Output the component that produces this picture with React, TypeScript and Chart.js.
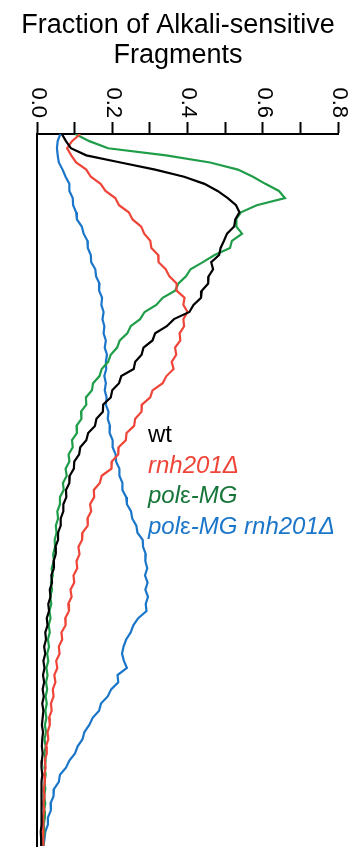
import { useEffect, useRef } from 'react';
import { Chart, registerables } from 'chart.js';

Chart.register(...registerables);

// Position along the gel lane (top = 0, bottom = 100)
const lanePositions: number[] = Array.from({ length: 101 }, (_, i) => i);

const xTickValues = [0, 0.2, 0.4, 0.6, 0.8];

const titleLines = ['Fraction of Alkali-sensitive', 'Fragments'];

const wtValues = [
  0.066, 0.077, 0.090, 0.131, 0.222, 0.314, 0.391, 0.445, 0.480, 0.507,
  0.529, 0.538, 0.527, 0.524, 0.505, 0.497, 0.488, 0.484, 0.463, 0.468,
  0.456, 0.455, 0.438, 0.436, 0.416, 0.405, 0.364, 0.345, 0.314, 0.307,
  0.283, 0.278, 0.261, 0.257, 0.224, 0.218, 0.200, 0.196, 0.176, 0.175,
  0.158, 0.154, 0.136, 0.131, 0.115, 0.112, 0.099, 0.098, 0.087, 0.086,
  0.077, 0.078, 0.070, 0.070, 0.063, 0.063, 0.056, 0.056, 0.049, 0.050,
  0.044, 0.045, 0.038, 0.040, 0.034, 0.036, 0.030, 0.032, 0.026, 0.028,
  0.022, 0.024, 0.019, 0.022, 0.017, 0.020, 0.016, 0.019, 0.015, 0.018,
  0.014, 0.017, 0.015, 0.013, 0.016, 0.014, 0.013, 0.015, 0.013, 0.012,
  0.014, 0.012, 0.013, 0.011, 0.012, 0.013, 0.011, 0.012, 0.010, 0.011, 0.011,
];

const rnh201Values = [
  0.115, 0.093, 0.080, 0.091, 0.104, 0.131, 0.143, 0.169, 0.182, 0.208,
  0.218, 0.244, 0.254, 0.277, 0.285, 0.301, 0.304, 0.322, 0.323, 0.342,
  0.352, 0.371, 0.371, 0.392, 0.389, 0.400, 0.389, 0.391, 0.379, 0.381,
  0.367, 0.370, 0.358, 0.363, 0.344, 0.334, 0.307, 0.301, 0.279, 0.278,
  0.261, 0.258, 0.238, 0.236, 0.217, 0.216, 0.199, 0.198, 0.172, 0.167,
  0.151, 0.152, 0.141, 0.144, 0.134, 0.135, 0.121, 0.120, 0.110, 0.113,
  0.105, 0.107, 0.097, 0.099, 0.089, 0.092, 0.083, 0.085, 0.075, 0.076,
  0.065, 0.067, 0.058, 0.060, 0.051, 0.054, 0.046, 0.049, 0.042, 0.044,
  0.037, 0.039, 0.032, 0.034, 0.028, 0.030, 0.024, 0.026, 0.021, 0.023,
  0.019, 0.021, 0.018, 0.020, 0.017, 0.019, 0.016, 0.018, 0.016, 0.017, 0.016,
];

const polMGValues = [
  0.102, 0.139, 0.189, 0.343, 0.460, 0.534, 0.574, 0.607, 0.643, 0.659,
  0.584, 0.542, 0.529, 0.530, 0.545, 0.518, 0.513, 0.472, 0.441, 0.408,
  0.396, 0.376, 0.367, 0.334, 0.317, 0.286, 0.274, 0.249, 0.240, 0.220,
  0.213, 0.196, 0.189, 0.172, 0.166, 0.149, 0.146, 0.130, 0.131, 0.117,
  0.118, 0.105, 0.106, 0.093, 0.095, 0.084, 0.086, 0.076, 0.079, 0.069,
  0.071, 0.061, 0.061, 0.054, 0.056, 0.050, 0.052, 0.047, 0.048, 0.043,
  0.045, 0.039, 0.042, 0.037, 0.040, 0.035, 0.038, 0.033, 0.036, 0.031,
  0.034, 0.029, 0.032, 0.027, 0.030, 0.025, 0.028, 0.024, 0.027, 0.023,
  0.026, 0.022, 0.025, 0.021, 0.024, 0.020, 0.023, 0.020, 0.023, 0.020,
  0.023, 0.020, 0.022, 0.019, 0.022, 0.019, 0.021, 0.018, 0.020, 0.017, 0.017,
];

const polMGrnh201Values = [
  0.062, 0.055, 0.053, 0.055, 0.058, 0.068, 0.076, 0.086, 0.086, 0.095,
  0.096, 0.104, 0.106, 0.119, 0.124, 0.134, 0.135, 0.143, 0.144, 0.155,
  0.157, 0.166, 0.165, 0.173, 0.171, 0.177, 0.174, 0.179, 0.177, 0.183,
  0.180, 0.186, 0.183, 0.184, 0.179, 0.183, 0.180, 0.185, 0.183, 0.190,
  0.188, 0.194, 0.193, 0.201, 0.201, 0.209, 0.210, 0.219, 0.219, 0.227,
  0.227, 0.237, 0.239, 0.250, 0.253, 0.264, 0.267, 0.281, 0.282, 0.289,
  0.288, 0.293, 0.287, 0.294, 0.288, 0.295, 0.289, 0.291, 0.269, 0.256,
  0.249, 0.237, 0.230, 0.226, 0.231, 0.239, 0.214, 0.216, 0.197, 0.188,
  0.170, 0.165, 0.148, 0.139, 0.126, 0.121, 0.108, 0.101, 0.086, 0.077,
  0.061, 0.058, 0.045, 0.044, 0.036, 0.037, 0.029, 0.029, 0.022, 0.020, 0.017,
];

const seriesNames = ['wt', 'rnh201Δ', 'polε-MG', 'polε-MG rnh201Δ'];
const seriesValues = [wtValues, rnh201Values, polMGValues, polMGrnh201Values];
const lineColors = ['#000000', '#ef4538', '#1f9d48', '#1b76c9'];
const legendColors = ['#000000', '#ef4538', '#17753a', '#1b76c9'];

// legend text pieces: [text, italic]
const legendPieces: [string, boolean][][] = [
  [['wt', false]],
  [['rnh201Δ', true]],
  [['pol', true], ['ε', false], ['-MG', true]],
  [['pol', true], ['ε', false], ['-MG rnh201Δ', true]],
];

const FONT = '"Liberation Sans", Arial, Helvetica, sans-serif';

const overlayPlugin = {
  id: 'overlay',
  afterDraw(chart: any) {
    const ctx: CanvasRenderingContext2D = chart.ctx;
    const xs = chart.scales.x;
    const area = chart.chartArea;
    ctx.save();
    // title
    ctx.fillStyle = '#000';
    ctx.font = `27px ${FONT}`;
    ctx.textAlign = 'center';
    ctx.textBaseline = 'alphabetic';
    titleLines.forEach((t, i) => {
      ctx.fillText(t, chart.width / 2, 33 + i * 30);
    });
    // rotated tick labels (clockwise)
    ctx.font = `22px ${FONT}`;
    ctx.textAlign = 'right';
    ctx.textBaseline = 'middle';
    xTickValues.forEach((v) => {
      const px = xs.getPixelForValue(v);
      ctx.save();
      ctx.translate(px + 1, xs.bottom - 16);
      ctx.rotate(Math.PI / 2);
      ctx.fillText(v.toFixed(1), 0, 0);
      ctx.restore();
    });
    // legend
    ctx.textAlign = 'left';
    ctx.textBaseline = 'alphabetic';
    const lx = area.left + 111;
    let ly = area.top + 308;
    legendPieces.forEach((pieces, i) => {
      let x = lx;
      ctx.fillStyle = legendColors[i];
      pieces.forEach(([t, it]) => {
        ctx.font = `${it ? 'italic ' : ''}24px ${FONT}`;
        ctx.fillText(t, x, ly);
        x += ctx.measureText(t).width;
      });
      ly += 30.7;
    });
    ctx.restore();
  },
};

export default function App() {
  const ref = useRef<HTMLCanvasElement>(null);
  useEffect(() => {
    const chart = new Chart(ref.current as HTMLCanvasElement, {
      type: 'line',
      data: {
        datasets: seriesNames.map((name, si) => ({
          label: name,
          data: lanePositions.map((p, i) => ({ x: seriesValues[si][i], y: p })),
          borderColor: lineColors[si],
          backgroundColor: lineColors[si],
          borderWidth: 2.2,
          pointRadius: 0,
          tension: 0,
          fill: false,
        })),
      },
      options: {
        indexAxis: 'y',
        animation: false,
        responsive: false,
        layout: { padding: { left: 37, right: 18, top: 70, bottom: 2 } },
        plugins: {
          legend: { display: false },
          tooltip: { enabled: false },
          title: { display: false },
        },
        scales: {
          x: {
            type: 'linear',
            position: 'top',
            min: 0,
            max: 0.8,
            ticks: { display: false, stepSize: 0.1 },
            grid: {
              display: true,
              drawOnChartArea: false,
              drawTicks: true,
              tickLength: 12,
              tickWidth: 2,
              tickColor: '#000',
            },
            border: { display: true, color: '#000', width: 2 },
            afterFit: (s: any) => {
              s.height = 64;
            },
          },
          y: {
            type: 'linear',
            min: 0,
            max: 100,
            reverse: true,
            ticks: { display: false },
            grid: { display: true, drawOnChartArea: false, drawTicks: false },
            border: { display: true, color: '#000', width: 2 },
            afterFit: (s: any) => {
              s.width = 0;
            },
          },
        },
      } as any,
      plugins: [overlayPlugin],
    });
    return () => chart.destroy();
  }, []);
  return (
    <div style={{ position: 'fixed', left: 0, top: 0, width: 356, height: 848, background: '#fff' }}>
      <canvas ref={ref} width={356} height={848} style={{ width: 356, height: 848, display: 'block' }} />
    </div>
  );
}
